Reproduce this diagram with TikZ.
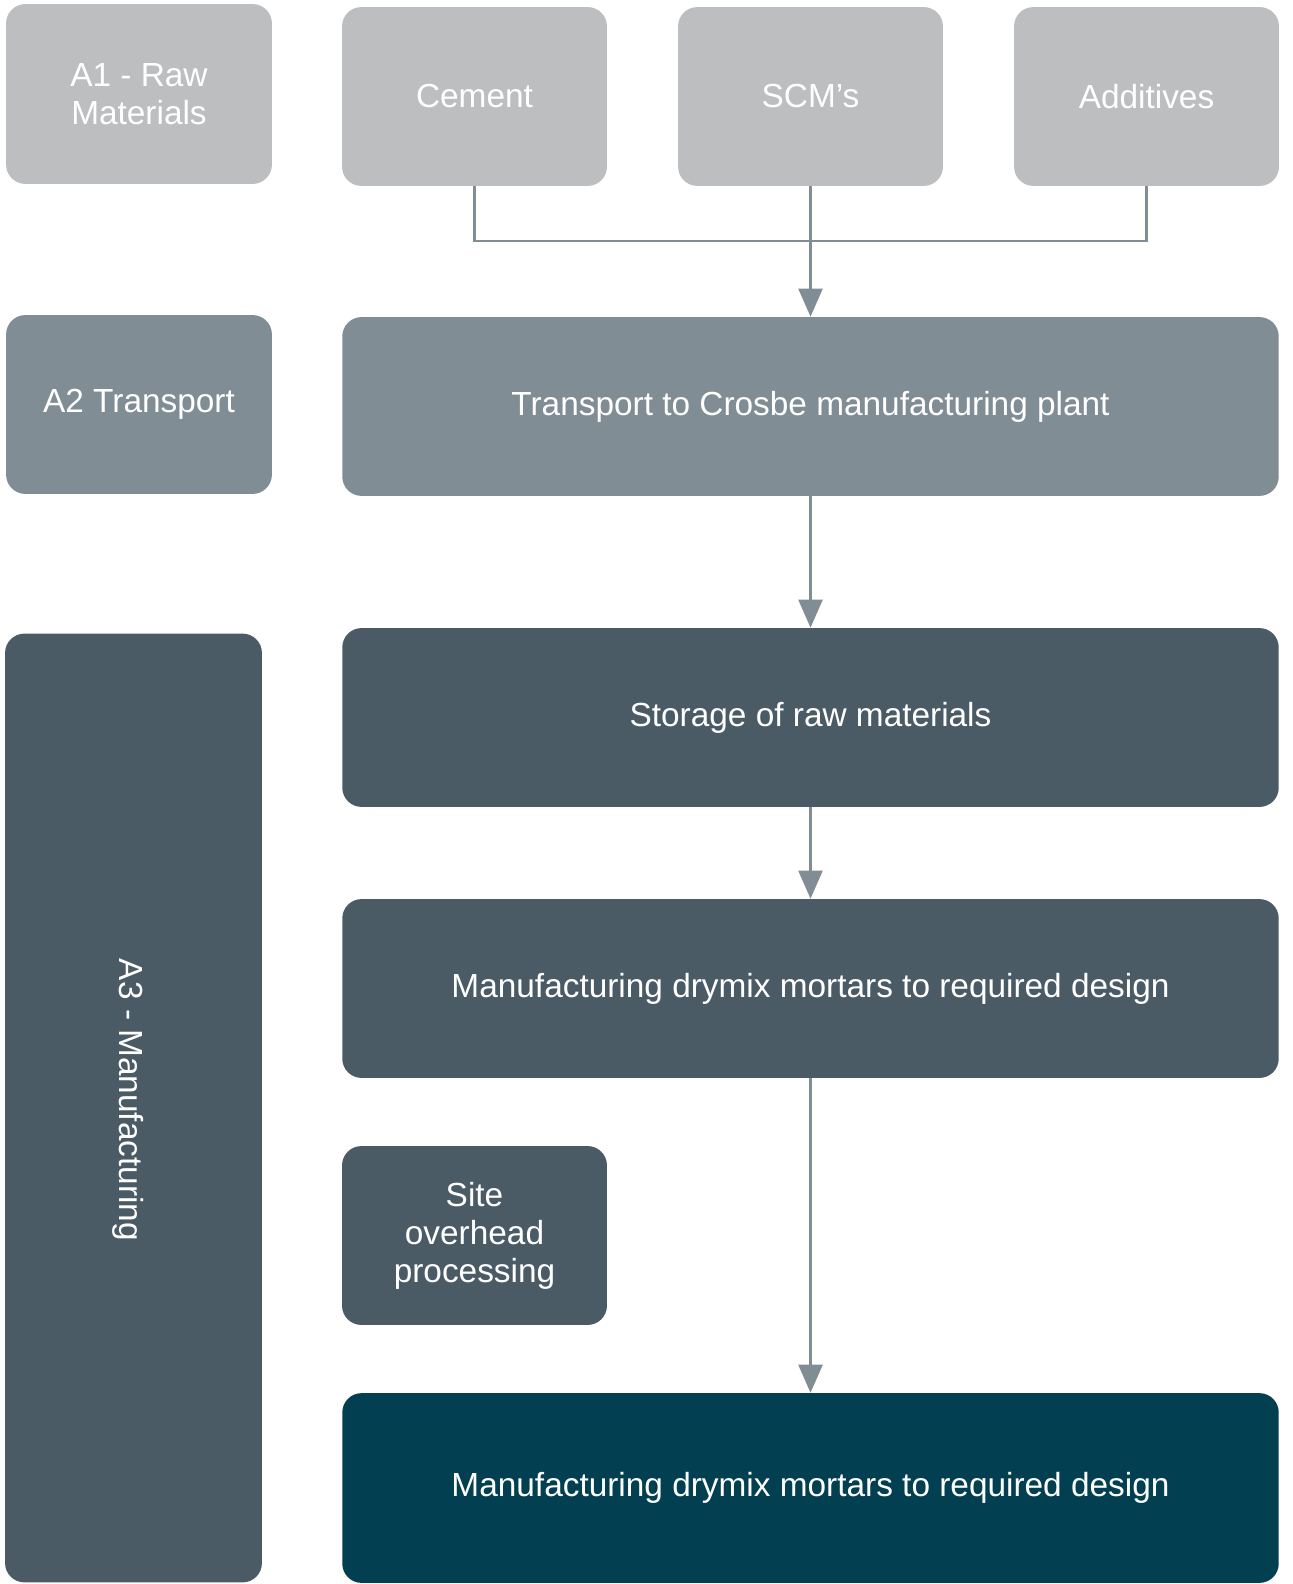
\documentclass[tikz,border=0pt]{standalone}
\usepackage{fontspec}
\setmainfont{Liberation Sans}
\usetikzlibrary{arrows.meta}

\definecolor{rawgrey}{HTML}{BDBEC0}
\definecolor{transgrey}{HTML}{818D94}
\definecolor{manslate}{HTML}{4B5B65}
\definecolor{finalteal}{HTML}{023F51}
\definecolor{linkgrey}{HTML}{818D94}

\tikzset{
	stagebox/.style={rounded corners=11pt, inner sep=2pt, text=white, align=center,
		font=\fontsize{19}{21.6}\selectfont},
	smallbox/.style={stagebox, minimum width=150.8pt, minimum height=101.8pt},
	widebox/.style={stagebox, minimum width=533pt, minimum height=101.8pt},
	link/.style={draw=linkgrey, line width=1.7pt},
	flow/.style={link, -{Triangle[width=13.6pt,length=16pt]}}
}

\begin{document}
\begin{tikzpicture}[x=0.02cm, y=-0.02cm]
		%%%%% START %%%%%
		\useasboundingbox (0, 0) rectangle (1293, 1584);
		
		% A1
		\node[smallbox, fill=rawgrey, minimum width=151.3pt, minimum height=102.4pt] (a1) at (139, 94) {A1 - Raw\\Materials};
		\node[smallbox, fill=rawgrey] (cement) at (474.5, 96.5) {Cement};
		\node[smallbox, fill=rawgrey] (scm) at (810.5, 96.5) {SCM’s};
		\node[smallbox, fill=rawgrey] (additives) at (1146.5, 96.5) {Additives};
		
		% A2
		\node[smallbox, fill=transgrey, minimum width=151.3pt] (a2) at (139, 404.5) {A2 Transport};
		\node[widebox, fill=transgrey] (transport) at (810.5, 406.5) {Transport to Crosbe manufacturing plant};
		
		% A3
		\node[stagebox, fill=manslate, minimum width=146.2pt, minimum height=540pt] (a3) at (133.5, 1108) {};
		\node[text=white, rotate=-90, font=\fontsize{19}{21.6}\selectfont] (a3label) at (128, 1100) {A3 - Manufacturing};
		\node[widebox, fill=manslate] (storage) at (810.5, 717.5) {Storage of raw materials};
		\node[widebox, fill=manslate] (mixing) at (810.5, 988.5) {Manufacturing drymix mortars to required design};
		\node[smallbox, fill=manslate] (overhead) at (474.5, 1235.5) {Site\\overhead\\processing};
		\node[widebox, fill=finalteal, minimum height=108pt] (product) at (810.5, 1488) {Manufacturing drymix mortars to required design};
		
		% connectors
		\coordinate (join) at (810.5, 241);
		\draw[link] (cement.south) |- (join) -| (additives.south);
		\draw[flow] (scm.south) -- (transport.north);
		\draw[flow] (transport.south) -- (storage.north);
		\draw[flow] (storage.south) -- (mixing.north);
		\draw[flow] (mixing.south) -- (product.north);
		
		%%%%% END %%%%%
	\end{tikzpicture}
\end{document}
